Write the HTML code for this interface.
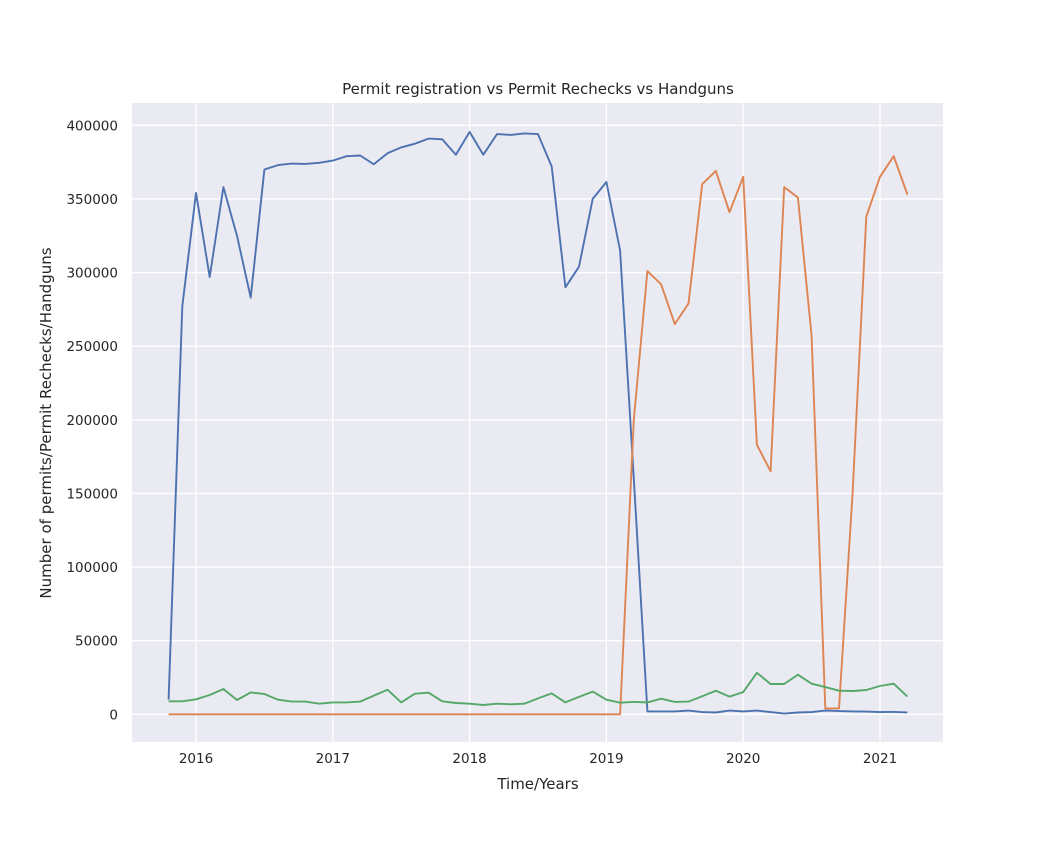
<!DOCTYPE html>
<html><head><meta charset="utf-8"><style>
body{margin:0;background:#fff;font-family:"Liberation Sans","DejaVu Sans",sans-serif}
svg text{font-family:"DejaVu Sans","Liberation Sans",sans-serif;fill:#262626}
</style></head><body>
<svg id="chart" width="1050" height="850" xmlns="http://www.w3.org/2000/svg">
<rect width="1050" height="850" fill="#fff"/>
<rect x="132" y="103" width="811" height="639" fill="#eaeaf2"/>
<g id="grid"></g><g id="ticks"></g><g id="series"></g>
<text x="538" y="94" text-anchor="middle" font-size="15">Permit registration vs Permit Rechecks vs Handguns</text>
<text x="538" y="789" text-anchor="middle" font-size="15">Time/Years</text>
<text transform="translate(51,423) rotate(-90)" text-anchor="middle" font-size="15">Number of permits/Permit Rechecks/Handguns</text>
</svg>
<script>
const years = [2015.8,2015.9,2016.0,2016.1,2016.2,2016.3,2016.4,2016.5,2016.6,2016.7,2016.8,2016.9,2017.0,2017.1,2017.2,2017.3,2017.4,2017.5,2017.6,2017.7,2017.8,2017.9,2018.0,2018.1,2018.2,2018.3,2018.4,2018.5,2018.6,2018.7,2018.8,2018.9,2019.0,2019.1,2019.2,2019.3,2019.4,2019.5,2019.6,2019.7,2019.8,2019.9,2020.0,2020.1,2020.2,2020.3,2020.4,2020.5,2020.6,2020.7,2020.8,2020.9,2021.0,2021.1,2021.2];
const permits = [10000,277000,354000,297000,358000,325000,283000,370000,373000,374000,373800,374500,376000,379000,379500,373500,381000,385000,387500,391000,390500,380000,395500,380000,394000,393500,394500,394000,372000,290000,304000,350000,361500,315000,160000,2000,2000,2000,2500,1500,1200,2500,2000,2500,1500,500,1200,1500,2500,2200,2000,1800,1500,1600,1300];
const rechecks = [0,0,0,0,0,0,0,0,0,0,0,0,0,0,0,0,0,0,0,0,0,0,0,0,0,0,0,0,0,0,0,0,0,0,200000,301000,292000,265000,279000,360000,369000,341000,365000,183000,165000,358000,351000,257000,4000,4000,150000,338000,365000,379000,353000];
const handguns = [8800,8800,10200,13100,17200,9700,14900,13800,9900,8600,8600,7200,8100,8100,8600,12700,16700,8100,14000,14700,8800,7700,7200,6300,7200,6800,7200,10800,14200,8100,11800,15400,9900,7900,8400,8100,10600,8400,8600,12200,16000,12000,15100,28200,20600,20600,26900,20800,18500,16000,15800,16500,19200,20800,12000];
const xTicks = [2016,2017,2018,2019,2020,2021];
const yTicks = [0,50000,100000,150000,200000,250000,300000,350000,400000];

const NS='http://www.w3.org/2000/svg';
function xs(v){return 196+(v-2016)*136.8;}
function ys(v){return 714.3-v*0.0014725;}
const grid=document.getElementById('grid'),ticks=document.getElementById('ticks'),ser=document.getElementById('series');
function mk(tag,attrs,parent){const e=document.createElementNS(NS,tag);for(const k in attrs)e.setAttribute(k,attrs[k]);parent.appendChild(e);return e;}
xTicks.forEach(t=>{
  const l=mk('line',{x1:xs(t),x2:xs(t),y1:103,y2:742,stroke:'#fff','stroke-width':1.3},grid);
  
  
  const tx=mk('text',{x:xs(t),y:763,'text-anchor':'middle','font-size':13.5},ticks);
  tx.textContent=t;
  
  
});
yTicks.forEach(t=>{
  const l=mk('line',{x1:132,x2:943,y1:ys(t),y2:ys(t),stroke:'#fff','stroke-width':1.3},grid);
  
  
  const tx=mk('text',{x:118,y:ys(t)+5,'text-anchor':'end','font-size':13.5},ticks);
  tx.textContent=t;
  
  
});
function line(vals,color,name){
  const d=vals.map((v,i)=>(i?'L':'M')+xs(years[i]).toFixed(1)+','+ys(v).toFixed(1)).join(' ');
  const p=mk('path',{d:d,fill:'none',stroke:color,'stroke-width':1.9,'stroke-linejoin':'round'},ser);
  
  
}
line(permits,'#4c72b0','permits-line');
line(rechecks,'#dd8452','rechecks-line');
line(handguns,'#55a868','handguns-line');
</script>
</body></html>
